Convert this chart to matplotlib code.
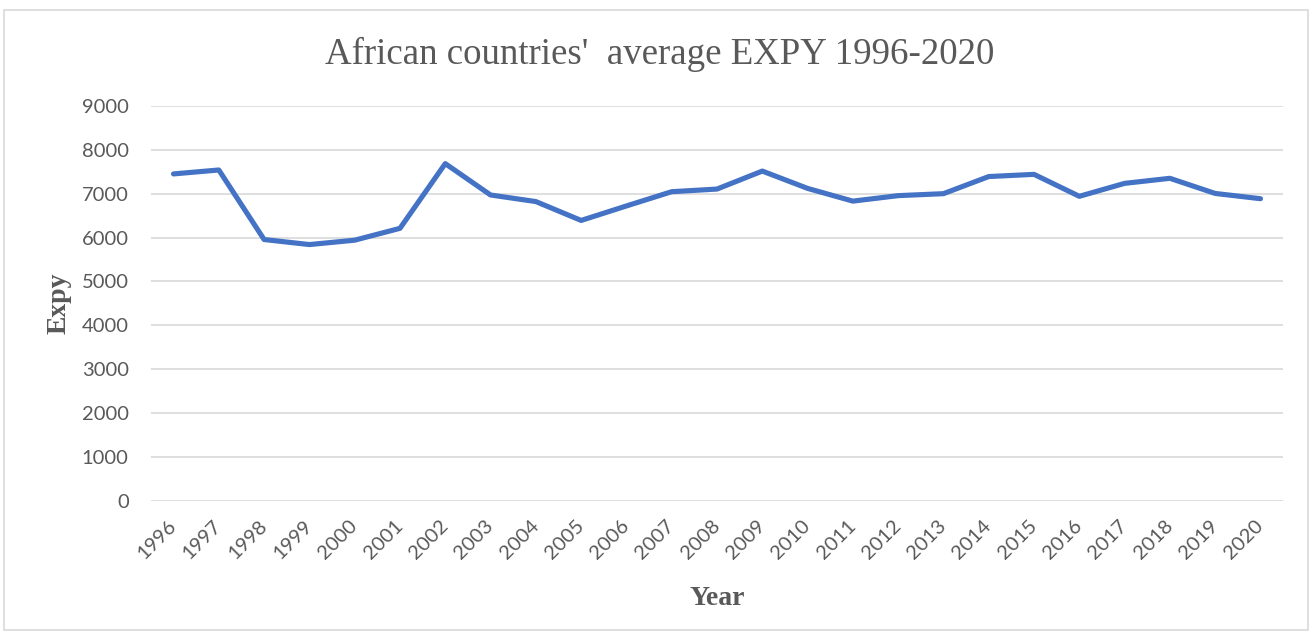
import matplotlib.pyplot as plt
from matplotlib.patches import Rectangle

# 年ごとの平均EXPY
years = [str(y) for y in range(1996, 2021)]
expy = [7450, 7540, 5955, 5840, 5940, 6210, 7685, 6970, 6820, 6390,
        6720, 7045, 7105, 7515, 7120, 6830, 6955, 7000, 7390, 7440,
        6940, 7235, 7350, 7005, 6885]
yticks = list(range(0, 9001, 1000))

fig = plt.figure(figsize=(13.12, 6.38), dpi=100)
ax = fig.add_axes([0.115, 0.215, 0.863, 0.619])

# 外枠
fig.patches.append(Rectangle((0.003, 0.012), 0.994, 0.972, transform=fig.transFigure,
                             fill=False, edgecolor='#D9D9D9', linewidth=1.2))

x = list(range(len(years)))
ax.plot(x, expy, color='#4472C4', linewidth=3.7, solid_capstyle='round', zorder=3)

ax.set_xlim(-0.5, len(years) - 0.5)
ax.set_ylim(0, 9000)
ax.set_yticks(yticks)
ax.set_yticklabels([str(t) for t in yticks], fontsize=14.5, color='#595959', family='Lato')
ax.set_xticks(x)
ax.set_xticklabels(years, rotation=45, ha='right', va='center', rotation_mode='anchor',
                   fontsize=14.5, color='#595959', family='Lato')
ax.tick_params(length=0)
ax.tick_params(axis='x', pad=16)
ax.tick_params(axis='y', pad=16)
ax.grid(axis='y', color='#D9D9D9', linewidth=1.2)
ax.set_axisbelow(True)
for s in ax.spines.values():
    s.set_visible(False)

fig.text(0.503, 0.900, "African countries'  average EXPY 1996-2020", ha='center', va='baseline',
         fontsize=26.6, color='#595959', family='Liberation Serif')
fig.text(0.547, 0.052, 'Year', ha='center', va='baseline', fontsize=20,
         fontweight='bold', color='#595959', family='Liberation Serif')
fig.text(0.045, 0.525, 'Expy', ha='center', va='center', rotation=90, fontsize=20,
         fontweight='bold', color='#595959', family='Liberation Serif')

fig.savefig('out.png', dpi=100)
